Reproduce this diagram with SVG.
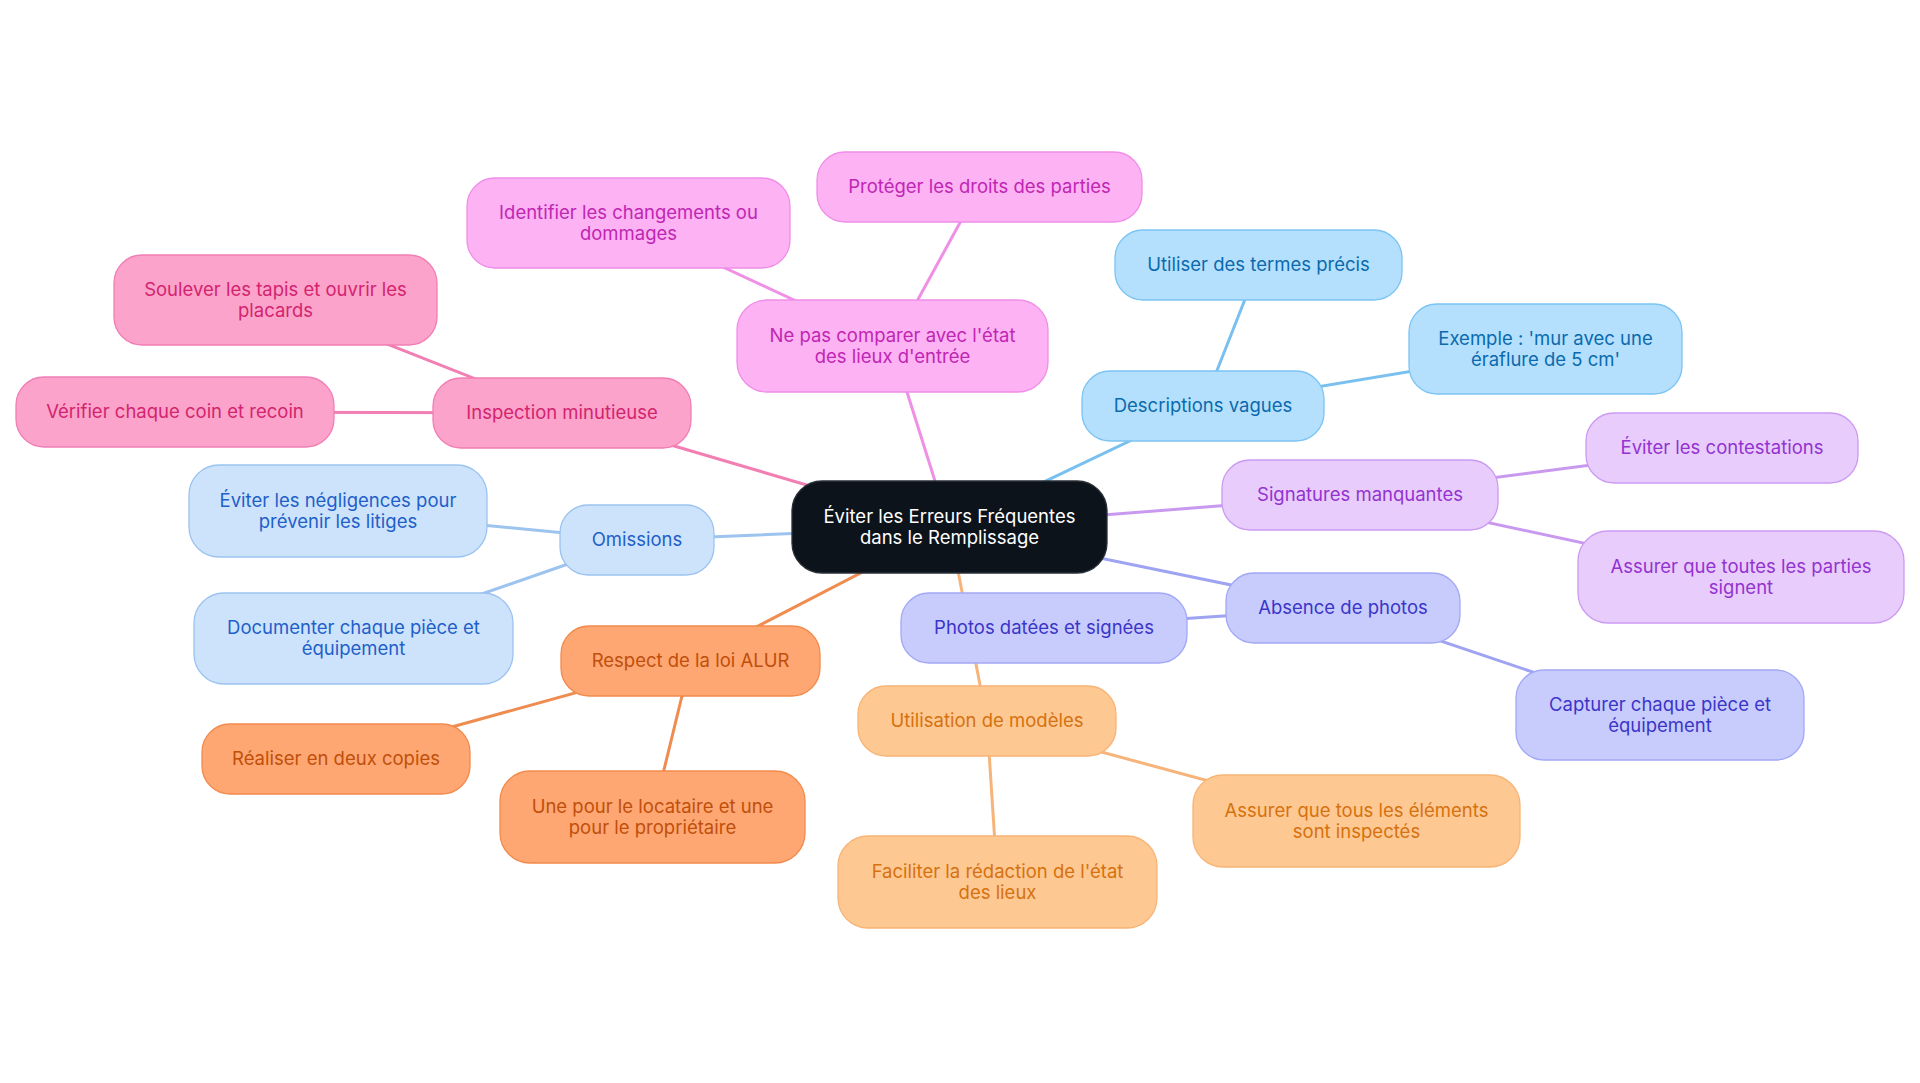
<svg xmlns="http://www.w3.org/2000/svg" width="1920" height="1083" viewBox="0 0 1920 1083">
<style>
text{font-family:Inter,"Noto Sans","Liberation Sans",sans-serif;font-size:18.5px;text-anchor:middle;dominant-baseline:central}
rect{stroke-width:1.3}
.c0 rect{fill:#0d131b;stroke:#2a3038}.c0 text{fill:#ffffff}
.pk rect{fill:#fba3ca;stroke:#f17fb5}.pk text{fill:#d3246f}
.mg rect{fill:#fcb2f3;stroke:#f08ee8}.mg text{fill:#c026b3}
.sk rect{fill:#b4e0fd;stroke:#7cc4f3}.sk text{fill:#0b6aad}
.bl rect{fill:#cde3fb;stroke:#9cc3f0}.bl text{fill:#1f5fc9}
.pu rect{fill:#e8ccfc;stroke:#cc9af2}.pu text{fill:#9333d0}
.in rect{fill:#c8ccfd;stroke:#a2a8f5}.in text{fill:#3b35c8}
.ol rect{fill:#fec893;stroke:#f8b476}.ol text{fill:#d5720f}
.or rect{fill:#fea772;stroke:#f28a4e}.or text{fill:#c04f0c}
#connectors line{stroke-width:3;stroke-linecap:round}
.lpk{stroke:#f27fb3}.lmg{stroke:#ef8fe5}.lsk{stroke:#7ac0ef}.lbl{stroke:#9dc3ef}.lpu{stroke:#c999ef}.lin{stroke:#9ea3f2}.lol{stroke:#f6b47b}.lor{stroke:#ef8c50}
</style>
<rect x="0" y="0" width="1920" height="1083" fill="#ffffff" stroke="none"/>
<g id="connectors">
<line class="lpk" x1="949.5" y1="527" x2="562" y2="413"/>
<line class="lpk" x1="562" y1="413" x2="275.5" y2="300"/>
<line class="lpk" x1="562" y1="413" x2="175" y2="412"/>
<line class="lmg" x1="949.5" y1="527" x2="892.5" y2="346"/>
<line class="lmg" x1="892.5" y1="346" x2="628.5" y2="223"/>
<line class="lmg" x1="892.5" y1="346" x2="979.5" y2="187"/>
<line class="lsk" x1="949.5" y1="527" x2="1203" y2="406"/>
<line class="lsk" x1="1203" y1="406" x2="1258.5" y2="265"/>
<line class="lsk" x1="1203" y1="406" x2="1545.5" y2="349"/>
<line class="lpu" x1="949.5" y1="527" x2="1360" y2="495"/>
<line class="lpu" x1="1360" y1="495" x2="1722" y2="448"/>
<line class="lpu" x1="1360" y1="495" x2="1741" y2="577"/>
<line class="lin" x1="949.5" y1="527" x2="1343" y2="608"/>
<line class="lin" x1="1343" y1="608" x2="1044" y2="628"/>
<line class="lin" x1="1343" y1="608" x2="1660" y2="715"/>
<line class="lol" x1="949.5" y1="527" x2="987" y2="721"/>
<line class="lol" x1="987" y1="721" x2="997.5" y2="882"/>
<line class="lol" x1="987" y1="721" x2="1356.5" y2="821"/>
<line class="lor" x1="949.5" y1="527" x2="690.5" y2="661"/>
<line class="lor" x1="690.5" y1="661" x2="336" y2="759"/>
<line class="lor" x1="690.5" y1="661" x2="652.5" y2="817"/>
<line class="lbl" x1="949.5" y1="527" x2="637" y2="540"/>
<line class="lbl" x1="637" y1="540" x2="338" y2="511"/>
<line class="lbl" x1="637" y1="540" x2="353.5" y2="638.5"/>
</g>
<g id="center" class="c0"><rect x="792" y="481" width="315" height="92" rx="30"/><text x="949.5" y="515.5">Éviter les Erreurs Fréquentes</text><text x="949.5" y="536.5">dans le Remplissage</text></g>
<g id="inspection" class="pk"><rect x="433" y="378" width="258" height="70" rx="28"/><text x="562" y="412">Inspection minutieuse</text></g>
<g id="soulever" class="pk"><rect x="114" y="255" width="323" height="90" rx="28"/><text x="275.5" y="288.5">Soulever les tapis et ouvrir les</text><text x="275.5" y="309.5">placards</text></g>
<g id="verifier" class="pk"><rect x="16" y="377" width="318" height="70" rx="28"/><text x="175" y="411">Vérifier chaque coin et recoin</text></g>
<g id="nepas" class="mg"><rect x="737" y="300" width="311" height="92" rx="30"/><text x="892.5" y="334.5">Ne pas comparer avec l'état</text><text x="892.5" y="355.5">des lieux d'entrée</text></g>
<g id="identifier" class="mg"><rect x="467" y="178" width="323" height="90" rx="28"/><text x="628.5" y="211.5">Identifier les changements ou</text><text x="628.5" y="232.5">dommages</text></g>
<g id="proteger" class="mg"><rect x="817" y="152" width="325" height="70" rx="28"/><text x="979.5" y="186">Protéger les droits des parties</text></g>
<g id="descriptions" class="sk"><rect x="1082" y="371" width="242" height="70" rx="28"/><text x="1203" y="405">Descriptions vagues</text></g>
<g id="utiliser" class="sk"><rect x="1115" y="230" width="287" height="70" rx="28"/><text x="1258.5" y="264">Utiliser des termes précis</text></g>
<g id="exemple" class="sk"><rect x="1409" y="304" width="273" height="90" rx="28"/><text x="1545.5" y="337.5">Exemple : 'mur avec une</text><text x="1545.5" y="358.5">éraflure de 5 cm'</text></g>
<g id="signatures" class="pu"><rect x="1222" y="460" width="276" height="70" rx="28"/><text x="1360" y="494">Signatures manquantes</text></g>
<g id="contestations" class="pu"><rect x="1586" y="413" width="272" height="70" rx="28"/><text x="1722" y="447">Éviter les contestations</text></g>
<g id="toutesparties" class="pu"><rect x="1578" y="531" width="326" height="92" rx="30"/><text x="1741" y="565.5">Assurer que toutes les parties</text><text x="1741" y="586.5">signent</text></g>
<g id="absence" class="in"><rect x="1226" y="573" width="234" height="70" rx="28"/><text x="1343" y="607">Absence de photos</text></g>
<g id="photos" class="in"><rect x="901" y="593" width="286" height="70" rx="28"/><text x="1044" y="627">Photos datées et signées</text></g>
<g id="capturer" class="in"><rect x="1516" y="670" width="288" height="90" rx="28"/><text x="1660" y="703.5">Capturer chaque pièce et</text><text x="1660" y="724.5">équipement</text></g>
<g id="utilisation" class="ol"><rect x="858" y="686" width="258" height="70" rx="28"/><text x="987" y="720">Utilisation de modèles</text></g>
<g id="faciliter" class="ol"><rect x="838" y="836" width="319" height="92" rx="30"/><text x="997.5" y="870.5">Faciliter la rédaction de l'état</text><text x="997.5" y="891.5">des lieux</text></g>
<g id="touselements" class="ol"><rect x="1193" y="775" width="327" height="92" rx="30"/><text x="1356.5" y="809.5">Assurer que tous les éléments</text><text x="1356.5" y="830.5">sont inspectés</text></g>
<g id="alur" class="or"><rect x="561" y="626" width="259" height="70" rx="28"/><text x="690.5" y="660">Respect de la loi ALUR</text></g>
<g id="realiser" class="or"><rect x="202" y="724" width="268" height="70" rx="28"/><text x="336" y="758">Réaliser en deux copies</text></g>
<g id="unepour" class="or"><rect x="500" y="771" width="305" height="92" rx="30"/><text x="652.5" y="805.5">Une pour le locataire et une</text><text x="652.5" y="826.5">pour le propriétaire</text></g>
<g id="omissions" class="bl"><rect x="560" y="505" width="154" height="70" rx="28"/><text x="637" y="539">Omissions</text></g>
<g id="negligences" class="bl"><rect x="189" y="465" width="298" height="92" rx="30"/><text x="338" y="499.5">Éviter les négligences pour</text><text x="338" y="520.5">prévenir les litiges</text></g>
<g id="documenter" class="bl"><rect x="194" y="593" width="319" height="91" rx="30"/><text x="353.5" y="627">Documenter chaque pièce et</text><text x="353.5" y="648">équipement</text></g>
</svg>
